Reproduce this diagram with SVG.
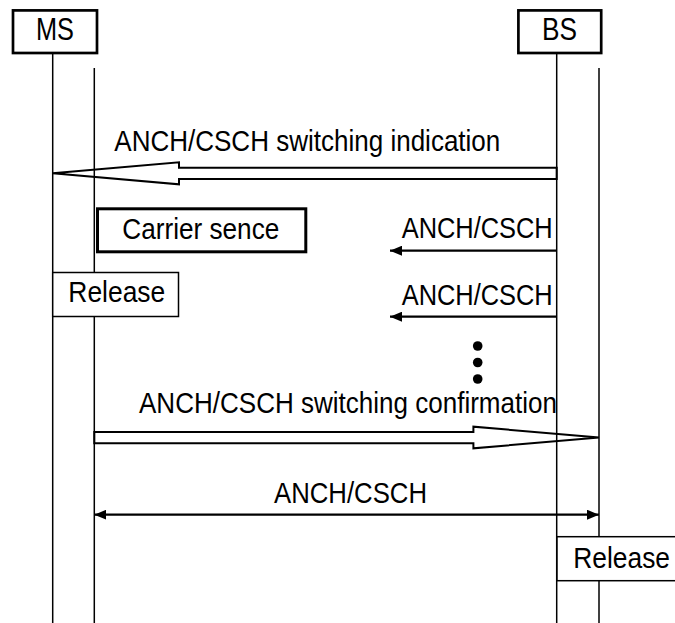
<svg xmlns="http://www.w3.org/2000/svg" width="675" height="623" viewBox="0 0 675 623">
  <style>
    .box { fill: #ffffff; stroke: #000000; stroke-width: 2.7; }
    .thin { fill: #ffffff; stroke: #000000; stroke-width: 1.5; }
    .life { stroke: #000000; stroke-width: 1.5; fill: none; }
    .hollow { fill: none; stroke: #000000; stroke-width: 2; stroke-linejoin: miter; }
    .msg { stroke: #000000; stroke-width: 2.2; fill: none; }
    .lbl { font-family: "Liberation Sans", Arial, sans-serif; font-size: 30px; fill: #000000; }
    .hdr { font-family: "Liberation Sans", Arial, sans-serif; font-size: 31px; fill: #000000; }
  </style>
  <defs>
    <marker id="ah" viewBox="0 0 12 10" refX="12" refY="5" markerWidth="12" markerHeight="10" markerUnits="userSpaceOnUse" orient="auto-start-reverse">
      <path d="M0,0 L12,5 L0,10 Z" fill="#000000"/>
    </marker>
  </defs>
  <rect width="675" height="623" fill="#ffffff"/>

  <g id="node-ms">
    <line class="life" x1="52.7" y1="53" x2="52.7" y2="623"/>
    <line class="life" x1="94.3" y1="68" x2="94.3" y2="623"/>
    <rect class="box" x="13" y="10.4" width="84" height="42.6"/>
    <text class="hdr" x="36" y="39.5" textLength="38" lengthAdjust="spacingAndGlyphs">MS</text>
  </g>

  <g id="node-bs">
    <line class="life" x1="556.7" y1="53" x2="556.7" y2="623"/>
    <line class="life" x1="599" y1="68" x2="599" y2="623"/>
    <rect class="box" x="518.4" y="10.4" width="82.8" height="42.6"/>
    <text class="hdr" x="542" y="39.5" textLength="35" lengthAdjust="spacingAndGlyphs">BS</text>
  </g>

  <g id="connectors">
    <polygon class="hollow" points="556.7,167.7 179,167.7 179,162.3 52.7,173.3 179,184.3 179,179 556.7,179"/>
    <text class="lbl" x="114.3" y="150.7" textLength="386" lengthAdjust="spacingAndGlyphs">ANCH/CSCH switching indication</text>

    <line class="msg" x1="556.7" y1="250.7" x2="390" y2="250.7" marker-end="url(#ah)"/>
    <text class="lbl" x="401.7" y="237.5" textLength="151" lengthAdjust="spacingAndGlyphs">ANCH/CSCH</text>

    <line class="msg" x1="556.7" y1="316.7" x2="390" y2="316.7" marker-end="url(#ah)"/>
    <text class="lbl" x="401.7" y="304.5" textLength="151" lengthAdjust="spacingAndGlyphs">ANCH/CSCH</text>

    <polygon class="hollow" points="94.3,432 473.4,432 473.4,426.7 599,437.5 473.4,448.3 473.4,443.2 94.3,443.2"/>
    <text class="lbl" x="139" y="413.3" textLength="418" lengthAdjust="spacingAndGlyphs">ANCH/CSCH switching confirmation</text>

    <line class="msg" x1="94.3" y1="514.7" x2="599" y2="514.7" marker-start="url(#ah)" marker-end="url(#ah)"/>
    <text class="lbl" x="274" y="502.7" textLength="153" lengthAdjust="spacingAndGlyphs">ANCH/CSCH</text>
  </g>

  <g id="ellipsis">
    <circle cx="477.7" cy="346" r="4.8" fill="#000000"/>
    <circle cx="477.7" cy="362.5" r="4.8" fill="#000000"/>
    <circle cx="477.7" cy="379" r="4.8" fill="#000000"/>
  </g>

  <g id="node-carrier-sence">
    <rect x="97.5" y="208.8" width="208.3" height="43" fill="#ffffff" stroke="#000000" stroke-width="3"/>
    <text class="lbl" x="122.3" y="238.5" textLength="157" lengthAdjust="spacingAndGlyphs">Carrier sence</text>
  </g>

  <g id="node-release-ms">
    <rect class="thin" x="52.7" y="272.5" width="125.8" height="44"/>
    <text class="lbl" x="68.3" y="302" textLength="97" lengthAdjust="spacingAndGlyphs">Release</text>
  </g>

  <g id="node-release-bs">
    <rect class="thin" x="557" y="536.7" width="130" height="44"/>
    <text class="lbl" x="573.3" y="568.3" textLength="96.7" lengthAdjust="spacingAndGlyphs">Release</text>
  </g>
</svg>
